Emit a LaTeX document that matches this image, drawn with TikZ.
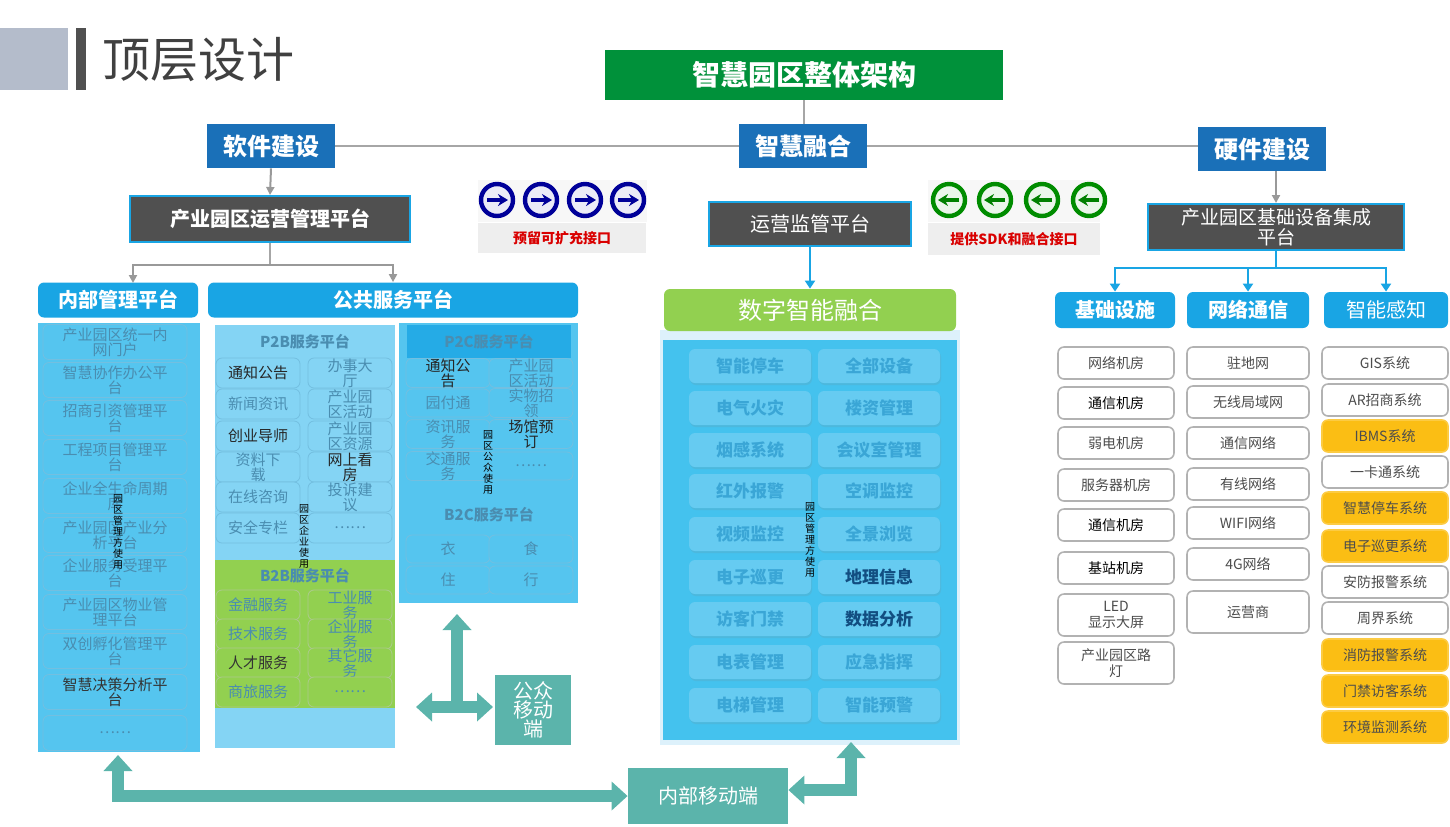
\documentclass[tikz,border=0pt]{standalone}
\usepackage{fontspec}
\setmainfont{Noto Sans CJK SC}
\usetikzlibrary{arrows.meta,shadows}
\definecolor{hdrblue}{HTML}{1A70B8}
\definecolor{topgreen}{HTML}{00913A}
\definecolor{darkbox}{HTML}{505050}
\definecolor{skyb}{HTML}{19A5E4}
\definecolor{panelb}{HTML}{55C5EF}
\definecolor{panell}{HTML}{84D4F4}
\definecolor{itemtxt}{HTML}{4A8DB0}
\definecolor{midtxt}{HTML}{3AA6D6}
\definecolor{teal}{HTML}{5BB4AB}
\definecolor{orng}{HTML}{FBBE14}
\definecolor{lgreen}{HTML}{92D050}
\tikzset{
 hdr/.style={fill=hdrblue,text=white,font=\fontsize{12}{12}\selectfont\bfseries,minimum width=64pt,minimum height=22pt,inner sep=0pt},
 dbox/.style={fill=darkbox,draw=skyb,line width=1pt,text=white,inner sep=0pt,align=center},
 sky/.style={fill=skyb,text=white,rounded corners=3pt,inner sep=0pt,font=\fontsize{10}{10}\selectfont\bfseries},
 litem/.style={draw=panell!70!itemtxt,fill=panelb,rounded corners=3pt,minimum width=72pt,minimum height=17.5pt,inner sep=0pt,align=center,text=itemtxt,font=\fontsize{7.5}{7.5}\selectfont},
 pitem/.style={litem,minimum width=42pt,minimum height=15pt,fill=panell},
 gitem/.style={pitem,fill=lgreen,draw=lgreen!80!black!60},
 citem/.style={litem,minimum width=42pt,minimum height=14pt},
 mitem/.style={draw=none,fill=panelb!90!white,rounded corners=3pt,minimum width=61pt,minimum height=17pt,inner sep=0pt,text=midtxt,font=\fontsize{8.5}{8.5}\selectfont\bfseries,drop shadow={shadow xshift=0.5pt,shadow yshift=-1pt,opacity=0.15}},
 witem/.style={draw=gray!60,line width=0.8pt,fill=white,rounded corners=3pt,minimum width=58pt,minimum height=16pt,inner sep=0pt,align=center,text=black!70,font=\fontsize{7}{8}\selectfont},
 oitem/.style={witem,fill=orng,draw=orng!80!white},
 vtxt/.style={align=center,font=\fontsize{5}{5.5}\selectfont,text=black,inner sep=0pt},
 garr/.style={gray!80,line width=1pt,-{Triangle[length=4pt,width=4pt]}},
 barr/.style={skyb,line width=1pt,-{Triangle[length=4pt,width=5pt]}},
 tarr/.style={teal,line width=6pt,-{Triangle[length=8pt,width=14pt]}},
 tarr2/.style={teal,line width=6pt,{Triangle[length=8pt,width=14pt]}-{Triangle[length=8pt,width=14pt]}},
 icb/.style={circle,draw=#1,line width=2.2pt,fill=#1!8,minimum size=16pt,inner sep=0pt},
 lbl/.style={fill=gray!13,text=red!85!black,font=\fontsize{7}{7}\selectfont\bfseries,inner sep=0pt}
}
\begin{document}
\begin{tikzpicture}[x=0.5pt,y=-0.5pt]
\useasboundingbox (0,0) rectangle (1450,826);
% title
\fill[fill={rgb,255:red,180;green,188;blue,203}] (0,28) rectangle (68,90);
\fill[darkbox] (76,28) rectangle (86,90);
\node[anchor=west,font=\fontsize{24}{24}\selectfont,text=black!75] (title) at (95,60) {顶层设计};
\node[fill=topgreen,text=white,minimum width=199pt,minimum height=25pt,font=\fontsize{14}{14}\selectfont\bfseries] (top) at (804,75) {智慧园区整体架构};
% headers
\node[hdr] (soft) at (271,146) {软件建设};
\node[hdr] (fuse) at (803,146) {智慧融合};
\node[hdr] (hard) at (1262,149) {硬件建设};
\draw[gray!70,line width=1pt] (soft.east) -- (fuse.west) (fuse.east) -- (hard.west|-fuse.east);
\draw[gray!70,line width=1pt] (top.south) -- (804,124);
% left platform
\node[dbox,minimum width=140pt,minimum height=23pt,font=\fontsize{10}{10}\selectfont\bfseries] (op) at (270,219) {产业园区运营管理平台};
\draw[garr] (soft.south) -- (op.north);
\coordinate (opj) at (270,265);
\node[sky,minimum width=80pt,minimum height=17.5pt] (inner) at (118,300) {内部管理平台};
\node[sky,minimum width=185pt,minimum height=17.5pt] (pub) at (393,300) {公共服务平台};
\draw[gray!70,line width=1pt] (op.south) -- (opj);
\draw[garr] (opj) -| (133,283);
\draw[garr] (opj) -| (pub.north);
% left panel
\fill[panelb] (38,323) rectangle (200,752);
\foreach \i/\y/\t in {1/342/{产业园区统一内\\网门户},2/380/{智慧协作办公平\\台},3/418/{招商引资管理平\\台},4/457/{工程项目管理平\\台},5/496/{企业全生命周期\\库},6/535/{产业园区产业分\\析平台},7/573/{企业服务受理平\\台},8/612/{产业园区物业管\\理平台},9/651/{双创孵化管理平\\台},11/733/{……}}
  \node[litem] (L\i) at (115,\y) {\t};
\node[litem,text=black!80] (L10) at (115,692) {智慧决策分析平\\台};
\node[vtxt] (v1) at (118,532) {园\\区\\管\\理\\方\\使\\用};
% P2B panel
\fill[panell] (215,325) rectangle (395,748);
\fill[lgreen] (215,560) rectangle (395,708);
\node[font=\fontsize{7.5}{7.5}\selectfont\bfseries,text=itemtxt] (p2b) at (305,342) {P2B服务平台};
\foreach \i/\y/\a/\b in {1/373/{\textcolor{black!85}{通知公告}}/{办事大\\厅},2/404/{新闻资讯}/{产业园\\区活动},3/436/{\textcolor{black!85}{创业导师}}/{产业园\\区资源},4/467/{资料下\\载}/{\textcolor{black!85}{网上看}\\\textcolor{black!85}{房}},5/497/{在线咨询}/{投诉建\\议},6/528/{}/{……}}
 {\node[pitem] (pa\i) at (258,\y) {\a}; \node[pitem] (pb\i) at (350,\y) {\b};}
\node[font=\fontsize{7.5}{7.5}\selectfont,text=itemtxt] at (pa6) {安全专栏};
\node[font=\fontsize{7.5}{7.5}\selectfont\bfseries,text=itemtxt] (b2b) at (305,576) {B2B服务平台};
\foreach \i/\y/\a/\b in {1/605/{金融服务}/{工业服\\务},2/634/{技术服务}/{企业服\\务},3/663/{\textcolor{black!80}{人才服务}}/{其它服\\务},4/692/{商旅服务}/{……}}
 {\node[gitem] (ga\i) at (258,\y) {\a}; \node[gitem] (gb\i) at (350,\y) {\b};}
\node[vtxt] (v2) at (304,536) {园\\区\\企\\业\\使\\用};
% P2C panel
\fill[panelb] (399,323) rectangle (578,603);
\fill[skyb!80!panelb] (407,325) rectangle (571,358);
\node[font=\fontsize{7.5}{7.5}\selectfont\bfseries,text=itemtxt] (p2c) at (489,342) {P2C服务平台};
\foreach \i/\y/\a/\b in {1/373/{\textcolor{black!85}{通知公}\\\textcolor{black!85}{告}}/{产业园\\区活动},2/403/{园付通}/{实物招\\领},3/434/{资讯服\\务}/{\textcolor{black!85}{场馆预}\\\textcolor{black!85}{订}},4/466/{交通服\\务}/{……}}
 {\node[citem] (ca\i) at (448,\y) {\a}; \node[citem] (cb\i) at (531,\y) {\b};}
\node[font=\fontsize{7.5}{7.5}\selectfont\bfseries,text=itemtxt] (b2c) at (489,515) {B2C服务平台};
\foreach \i/\y/\a/\b in {1/549/衣/食,2/580/住/行}
 {\node[citem] (da\i) at (448,\y) {\a}; \node[citem] (db\i) at (531,\y) {\b};}
\node[vtxt] (v3) at (488,462) {园\\区\\公\\众\\使\\用};
% interface icons
\fill[gray!6] (478,180) rectangle (647,222);
\fill[gray!6] (928,180) rectangle (1100,222);
\foreach \i/\x in {1/497,2/541,3/585,4/628}{
 \node[icb=blue!60!black] (bi\i) at (\x,200) {};
 \draw[blue!60!black,line width=2pt,-{Stealth[length=5pt,width=6pt]}] ([xshift=-5pt]bi\i.center) -- ([xshift=5.5pt]bi\i.center);}
\node[lbl,minimum width=84pt,minimum height=15pt] (l1) at (562,238) {预留可扩充接口};
\foreach \i/\x in {1/949,2/995,3/1042,4/1089}{
 \node[icb=green!55!black] (gi\i) at (\x,200) {};
 \draw[green!50!black,line width=2pt,-{Stealth[length=5pt,width=6pt]}] ([xshift=5pt]gi\i.center) -- ([xshift=-5.5pt]gi\i.center);}
\node[lbl,minimum width=86pt,minimum height=16pt] (l2) at (1014,239) {提供SDK和融合接口};
% middle
\node[dbox,minimum width=101pt,minimum height=22pt,font=\fontsize{10}{10}\selectfont] (mon) at (810,224) {运营监管平台};
\fill[skyb!15] (660,330) rectangle (960,745);
\fill[fill={rgb,255:red,68;green,194;blue,238}] (663,340) rectangle (957,740);
\node[fill=lgreen,text=white,rounded corners=3pt,minimum width=146pt,minimum height=21pt,font=\fontsize{12}{12}\selectfont] (dig) at (810,310) {数字智能融合};
\draw[barr] (mon.south) -- (dig.north);
\foreach \i/\y/\a/\b in {1/366/智能停车/全部设备,2/408/电气火灾/楼资管理,3/450/烟感系统/会议室管理,4/491/红外报警/空调监控,5/534/视频监控/全景浏览,6/577/电子巡更/{\textcolor{hdrblue!70!black}{地理信息}},7/619/访客门禁/{\textcolor{hdrblue!70!black}{数据分析}},8/662/电表管理/应急指挥,9/705/电梯管理/智能预警}
 {\node[mitem] (ma\i) at (750,\y) {\a}; \node[mitem] (mb\i) at (879,\y) {\b};}
\node[vtxt] (v4) at (810,540) {园\\区\\管\\理\\方\\使\\用};
% right
\node[dbox,minimum width=128pt,minimum height=23pt,font=\fontsize{9.5}{10}\selectfont] (hw) at (1276,227) {产业园区基础设备集成\\平台};
\draw[garr] (hw.north|-hard.south) -- (hw.north);
\coordinate (hwj) at (1276,268);
\node[sky,minimum width=60pt,minimum height=18pt,font=\fontsize{10}{10}\selectfont\bfseries] (c1) at (1115,310) {基础设施};
\node[sky,minimum width=61pt,minimum height=18pt,font=\fontsize{10}{10}\selectfont\bfseries] (c2) at (1248,310) {网络通信};
\node[sky,minimum width=62pt,minimum height=18pt,font=\fontsize{10}{10}\selectfont] (c3) at (1386,310) {智能感知};
\draw[skyb,line width=1pt] (hw.south) -- (hwj);
\draw[barr] (hwj) -| (c1.north);
\draw[barr] (hwj) -| (c2.north);
\draw[barr] (hwj) -| (c3.north);
\foreach \i/\y/\t in {1/363/网络机房,2/403/\textcolor{black}{通信机房},3/443/弱电机房,4/485/服务器机房,5/525/\textcolor{black}{通信机房},6/568/\textcolor{black}{基站机房}}
 \node[witem] (r\i) at (1116,\y) {\t};
\node[witem,minimum height=21pt] (r7) at (1116,615) {LED\\显示大屏};
\node[witem,minimum height=21pt] (r8) at (1116,663) {产业园区路\\灯};
\foreach \i/\y/\t in {1/363/驻地网,2/402/无线局域网,3/443/通信网络,4/484/有线网络,5/523/WIFI网络,6/564/4G网络}
 \node[witem,minimum width=61pt] (s\i) at (1248,\y) {\t};
\node[witem,minimum width=61pt,minimum height=21pt] (s7) at (1248,612) {运营商};
\foreach \i/\y/\t in {1/363/GIS系统,2/400/AR招商系统,4/472/一卡通系统,7/582/安防报警系统,8/618/周界系统}
 \node[witem,minimum width=63pt] (t\i) at (1385,\y) {\t};
\foreach \i/\y/\t in {3/436/IBMS系统,5/508/智慧停车系统,6/546/电子巡更系统,9/655/消防报警系统,10/691/门禁访客系统,11/727/环境监测系统}
 \node[oitem,minimum width=63pt] (t\i) at (1385,\y) {\t};
% bottom teal
\node[fill=teal,text=white,minimum width=80pt,minimum height=28pt,font=\fontsize{10}{10}\selectfont] (mob) at (708,796) {内部移动端};
\node[fill=teal,text=white,minimum width=38pt,minimum height=32pt,align=center,font=\fontsize{10}{9.5}\selectfont] (pm) at (533,710) {公众\\移动\\端};
\draw[tarr2] (118,755) |- (mob.west);
\draw[tarr2] (mob.east|-0,790) -| (851,742);
\coordinate (cx) at (457,707);
\draw[tarr] (cx) -- (457,614);
\draw[tarr2] (416,707) -- (493,707);
\end{tikzpicture}
\end{document}
